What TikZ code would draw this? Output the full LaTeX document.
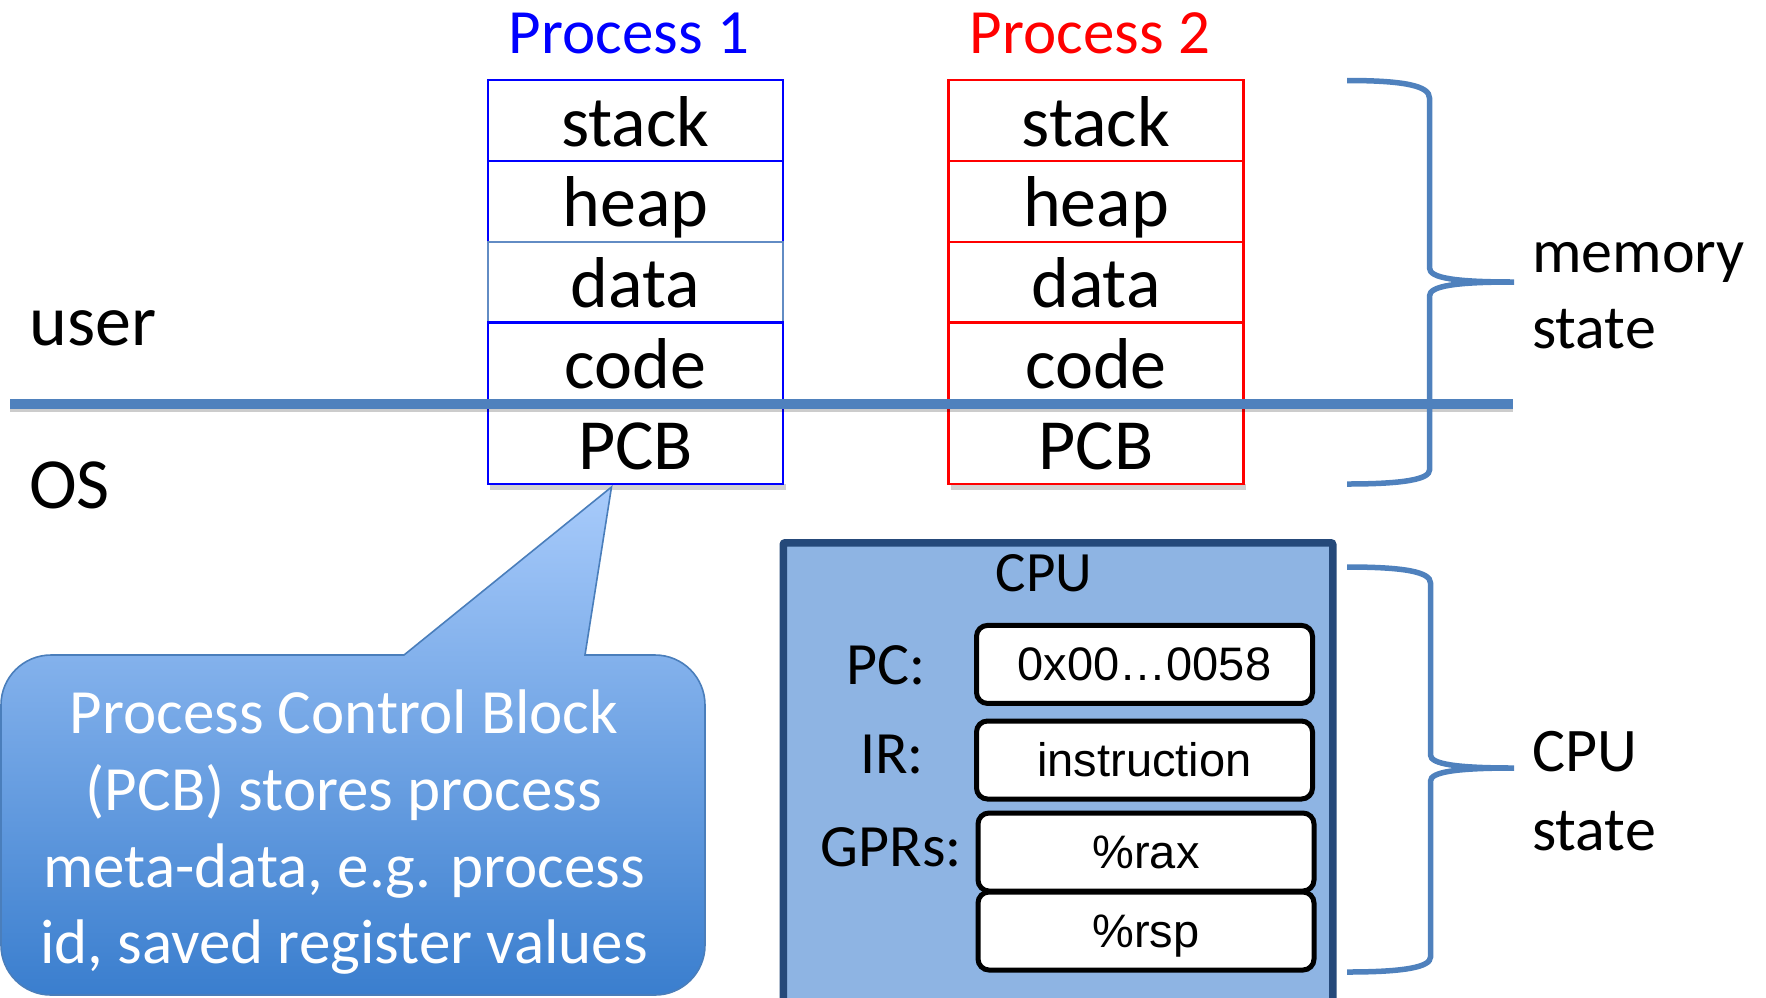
\documentclass[tikz,border=0pt]{standalone}
\usepackage{fontspec}
\setmainfont{Carlito}
\newfontfamily\regfont{Liberation Sans}

\definecolor{procone}{RGB}{0,0,255}
\definecolor{proctwo}{RGB}{255,0,0}
\definecolor{accent}{RGB}{79,129,189}
\definecolor{softedge}{RGB}{98,140,196}
\definecolor{cpufill}{RGB}{142,180,227}
\definecolor{cpuedge}{RGB}{37,73,122}
\definecolor{calltop}{RGB}{168,203,251}
\definecolor{callbot}{RGB}{58,126,206}
\definecolor{calledge}{RGB}{74,126,187}

\begin{document}
\begin{tikzpicture}[x=1pt, y=-1pt,
  cellbox/.style={draw, fill=white, line width=2.2pt, minimum width=295pt,
    minimum height=80.8pt, inner sep=0pt, text height=60pt, text depth=8.8pt,
    font=\fontsize{72}{80}\selectfont},
  p1cell/.style={cellbox, draw=procone},
  p2cell/.style={cellbox, draw=proctwo},
  regbox/.style={draw=black, fill=white, line width=5pt, rounded corners=11pt,
    minimum width=336pt, minimum height=78pt, inner sep=0pt,
    text height=40pt, text depth=7.4pt, font={\regfont\fontsize{47}{52}\selectfont}},
  reglabel/.style={anchor=base east, inner sep=0pt, font=\fontsize{60}{66}\selectfont},
  sidelabel/.style={anchor=base west, inner sep=0pt, font=\fontsize{62}{70}\selectfont},
  bigword/.style={anchor=base west, inner sep=0pt, font=\fontsize{72}{80}\selectfont},
  proctitle/.style={anchor=base, inner sep=0pt, font=\fontsize{63}{70}\selectfont},
  calltext/.style={anchor=base, inner sep=0pt, text=white, font=\fontsize{63}{70}\selectfont},
  brace/.style={draw=accent, line width=5.5pt},
]
\useasboundingbox (0,0) rectangle (1766,997);
\clip (0,0) rectangle (1766,997);

% ---------- process titles ----------
\node[proctitle, text=procone] (p1title) at (629,53) {Process 1};
\node[proctitle, text=proctwo] (p2title) at (1090,53) {Process 2};

% ---------- address spaces ----------
\fill[black, opacity=0.18] (490,484) rectangle (786,490);
\fill[black, opacity=0.18] (951,484) rectangle (1246,490);

\node[p1cell] (p1stack) at (635.5,120.4) {stack};
\node[p1cell] (p1heap)  at (635.5,201.2) {heap};
\node[cellbox, draw=softedge] (p1data) at (635.5,282) {data};
\node[p1cell] (p1code)  at (635.5,362.8) {code};
\node[p1cell] (p1pcb)   at (635.5,443.6) {PCB};

\node[p2cell] (p2stack) at (1096,120.4) {stack};
\node[p2cell] (p2heap)  at (1096,201.2) {heap};
\node[p2cell] (p2data)  at (1096,282) {data};
\node[p2cell] (p2code)  at (1096,362.8) {code};
\node[p2cell] (p2pcb)   at (1096,443.6) {PCB};

% ---------- user / OS boundary ----------
\coordinate (sepL) at (10,403.5);
\coordinate (sepR) at (1513,403.5);
\draw[black, opacity=0.2, line width=4pt] ([yshift=-6pt]sepL) -- ([yshift=-6pt]sepR);
\draw[accent, line width=10pt] (sepL) -- (sepR);

\node[bigword] (userlbl) at (29,345) {user};
\node[bigword] (oslbl) at (29,508) {OS};

% ---------- memory brace ----------
\draw[brace] (1347,80.5) .. controls (1405,80.5) and (1429.5,86) .. (1429.5,98)
  -- (1429.5,268) .. controls (1429.5,278) and (1455,282) .. (1514,282)
  .. controls (1455,282) and (1429.5,286) .. (1429.5,296)
  -- (1429.5,470) .. controls (1429.5,479) and (1405,484) .. (1347,484);
\node[sidelabel] (memlbl1) at (1532,272) {memory};
\node[sidelabel] (memlbl2) at (1532,348) {state};

% ---------- CPU ----------
\node[draw=cpuedge, fill=cpufill, line width=7.5pt, rounded corners=2pt,
  minimum width=549.5pt, minimum height=470pt, inner sep=0pt,
  anchor=north west] (cpu) at (779.5,539) {};
\node[anchor=base, inner sep=0pt, font=\fontsize{57}{64}\selectfont] (cputitle) at (1044,591.7) {CPU};

\node[regbox] (pc)  at (1144.5,664.4) {0x00…0058};
\node[regbox] (ir)  at (1144.5,760) {instruction};
\node[regbox] (rax) at (1146,852) {\%rax};
\node[regbox] (rsp) at (1146,931) {\%rsp};

\node[reglabel] (pclbl)  at (926,684) {PC:};
\node[reglabel] (irlbl)  at (924,773) {IR:};
\node[reglabel] (gprlbl) at (962,866.7) {GPRs:};

% ---------- CPU brace ----------
\draw[brace] (1347,567) .. controls (1405,567) and (1430.5,572) .. (1430.5,583)
  -- (1430.5,755) .. controls (1430.5,764) and (1456,768) .. (1514,768)
  .. controls (1456,768) and (1430.5,772) .. (1430.5,781)
  -- (1430.5,957) .. controls (1430.5,967) and (1405,972) .. (1347,972);
\node[sidelabel] (cpulbl1) at (1532,771.7) {CPU};
\node[sidelabel] (cpulbl2) at (1532,850) {state};

% ---------- PCB callout ----------
\coordinate (tip) at (611.5,487);
\path[draw=calledge, line width=1.6pt, top color=calltop, bottom color=callbot]
  (404,655) -- (tip) -- (585,655) -- (655,655)
  .. controls (682.6,655) and (705,677.4) .. (705,705)
  -- (705,945) .. controls (705,972.6) and (682.6,995) .. (655,995)
  -- (51,995) .. controls (23.4,995) and (1,972.6) .. (1,945)
  -- (1,705) .. controls (1,677.4) and (23.4,655) .. (51,655) -- cycle;

\node[calltext] (call1) at (344,733) {Process Control Block};
\node[calltext] (call2) at (344,810) {(PCB) stores process};
\node[calltext] (call3) at (344,887) {meta-data, e.g. process};
\node[calltext] (call4) at (344,963) {id, saved register values};
\end{tikzpicture}
\end{document}
